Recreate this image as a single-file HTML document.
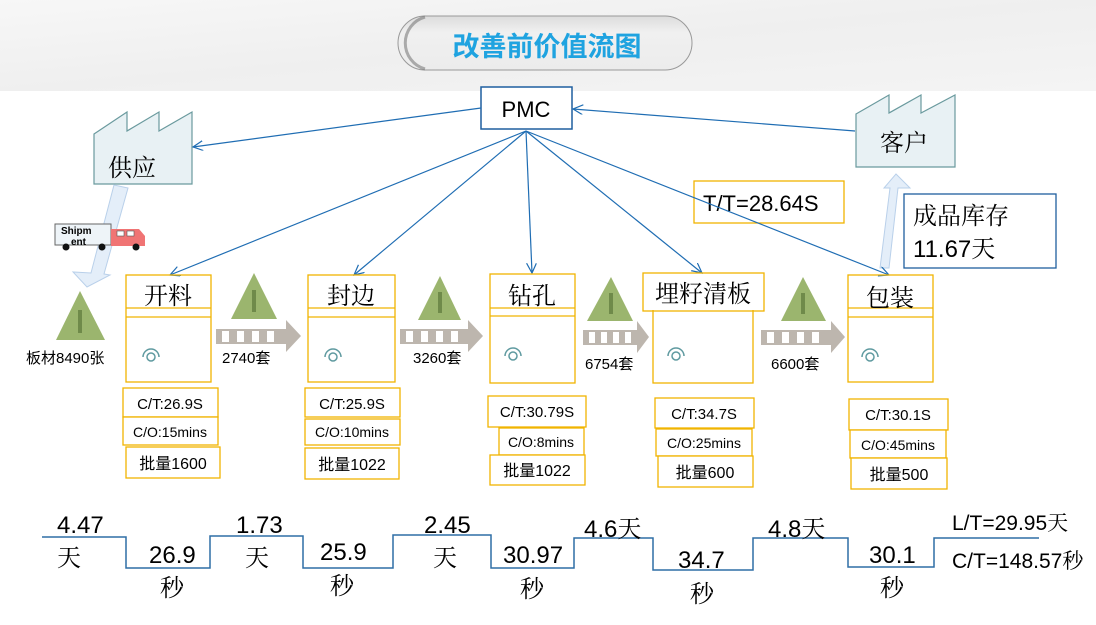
<!DOCTYPE html>
<html><head><meta charset="utf-8"><style>
html,body{margin:0;padding:0;background:#fff;}
svg{display:block;}
text{font-family:"Liberation Sans","Noto Sans CJK SC",sans-serif;fill:#000;}
.cj{font-family:"Noto Serif CJK SC","Liberation Serif",serif;}
</style></head><body>
<svg width="1096" height="625" viewBox="0 0 1096 625" xmlns="http://www.w3.org/2000/svg">
<defs>
<linearGradient id="hd" x1="0" y1="0" x2="1" y2="1"><stop offset="0" stop-color="#f7f7f7"/><stop offset="0.5" stop-color="#efefef"/><stop offset="1" stop-color="#f4f4f4"/></linearGradient>
<linearGradient id="pill" x1="0" y1="0" x2="0" y2="1"><stop offset="0" stop-color="#dcdcdc"/><stop offset="0.3" stop-color="#f0f0f0"/><stop offset="1" stop-color="#ececec"/></linearGradient>
<marker id="ah" markerWidth="12" markerHeight="12" refX="10" refY="5" orient="auto" markerUnits="userSpaceOnUse"><path d="M0,0 L10,5 L0,10" fill="none" stroke="#1f6db3" stroke-width="1.2"/></marker>
</defs>
<rect x="0" y="0" width="1096" height="91" fill="url(#hd)"/>
<rect x="398" y="16" width="294" height="54" rx="27" fill="url(#pill)" stroke="#999" stroke-width="1"/>
<path d="M425,17 A27,27 0 0 0 425,69" fill="none" stroke="#666" stroke-width="3" opacity="0.5"/>
<text x="547" y="56" text-anchor="middle" font-size="27" font-weight="bold" style="fill:#1fa3e0">改善前价值流图</text>

<rect x="481" y="87" width="91" height="42" fill="#fff" stroke="#1f5f9f" stroke-width="1.5"/>
<text x="526" y="117" text-anchor="middle" font-size="22">PMC</text>

<path d="M94,134 L127,112 L127,131 L159,112 L159,131 L192,112 L192,184 L94,184 Z" fill="#e8f1f4" stroke="#6a9a9e" stroke-width="1.2"/>
<text x="108" y="176" font-size="24" class="cj">供应</text>
<path d="M856,114 L889,95 L889,113 L921,95 L921,113 L955,95 L955,167 L856,167 Z" fill="#e8f1f4" stroke="#6a9a9e" stroke-width="1.2"/>
<text x="880" y="151" font-size="24" class="cj">客户</text>

<g stroke="#1f6db3" stroke-width="1.2" fill="none" marker-end="url(#ah)">
<line x1="481" y1="108" x2="193" y2="147"/>
<line x1="855" y1="131" x2="573" y2="109"/>
<line x1="526" y1="131" x2="170" y2="275"/>
<line x1="526" y1="131" x2="354" y2="275"/>
<line x1="526" y1="131" x2="532" y2="273"/>
<line x1="526" y1="131" x2="702" y2="273"/>
</g>

<polygon points="114,185 128,188 104,274 110,275 87,287 73,272 91,273" fill="#e4eef9" stroke="#b9d0ea" stroke-width="1"/>
<polygon points="880,268 889,268 898,188 910,188 896,174 884,188 890,188" fill="#e4eef9" stroke="#b9d0ea" stroke-width="1"/>

<rect x="55" y="224" width="56" height="21" fill="#eef4f8" stroke="#666" stroke-width="1"/>
<text x="61" y="234" font-size="10" font-weight="bold">Shipm</text>
<text x="71" y="245" font-size="10" font-weight="bold">ent</text>
<path d="M111,229 L139,229 L145,236 L145,246 L111,246 Z" fill="#f07474"/>
<rect x="117" y="231" width="7" height="5" fill="#fff" stroke="#555" stroke-width="0.6"/>
<rect x="127" y="231" width="7" height="5" fill="#fff" stroke="#555" stroke-width="0.6"/>
<g fill="#111"><circle cx="66" cy="247" r="3.5"/><circle cx="102" cy="247" r="3.5"/><circle cx="136" cy="247" r="3.5"/></g>

<rect x="694" y="181" width="150" height="42" fill="#fff" stroke="#f0b400" stroke-width="1.3"/>
<text x="703" y="211" font-size="22">T/T=28.64S</text>
<line x1="526" y1="131" x2="889" y2="275" stroke="#1f6db3" stroke-width="1.2" marker-end="url(#ah)"/>
<rect x="904" y="194" width="152" height="74" fill="#fff" stroke="#1f5f9f" stroke-width="1.3"/>
<text x="913" y="224" font-size="24" class="cj">成品库存</text>
<text x="913" y="257" font-size="24">11.67<tspan class="cj">天</tspan></text>

<g fill="#9bb56e">
<polygon points="80,291 56,340 105,340"/>
<polygon points="254,273 231,319 277,319"/>
<polygon points="440,276 418,320 461,320"/>
<polygon points="611,277 587,321 633,321"/>
<polygon points="803,277 781,321 826,321"/>
</g>
<g stroke="#6f8a4a" stroke-width="4">
<line x1="80" y1="310" x2="80" y2="333"/><line x1="254" y1="290" x2="254" y2="312"/>
<line x1="440" y1="292" x2="440" y2="313"/><line x1="611" y1="293" x2="611" y2="314"/>
<line x1="803" y1="293" x2="803" y2="314"/>
</g>

<g>
<g transform="translate(216,320)"><polygon points="0,9 70,9 70,0 85,16 70,32 70,24 0,24" fill="#bdb6ae"/><g fill="#fff"><rect x="6" y="11" width="7" height="11"/><rect x="21" y="11" width="7" height="11"/><rect x="36" y="11" width="7" height="11"/><rect x="51" y="11" width="7" height="11"/></g></g>
<g transform="translate(400,320)"><polygon points="0,9 68,9 68,0 83,16 68,32 68,24 0,24" fill="#bdb6ae"/><g fill="#fff"><rect x="6" y="11" width="7" height="11"/><rect x="21" y="11" width="7" height="11"/><rect x="36" y="11" width="7" height="11"/><rect x="51" y="11" width="7" height="11"/></g></g>
<g transform="translate(583,321)"><polygon points="0,9 54,9 54,0 66,16 54,32 54,24 0,24" fill="#bdb6ae"/><g fill="#fff"><rect x="6" y="11" width="6" height="11"/><rect x="18" y="11" width="6" height="11"/><rect x="30" y="11" width="6" height="11"/><rect x="42" y="11" width="6" height="11"/></g></g>
<g transform="translate(761,321)"><polygon points="0,9 70,9 70,0 84,16 70,32 70,24 0,24" fill="#bdb6ae"/><g fill="#fff"><rect x="6" y="11" width="7" height="11"/><rect x="21" y="11" width="7" height="11"/><rect x="36" y="11" width="7" height="11"/><rect x="51" y="11" width="7" height="11"/></g></g>
</g>
<g font-size="15">
<text x="26" y="363">板材8490张</text>
<text x="222" y="363">2740套</text>
<text x="413" y="363">3260套</text>
<text x="585" y="369">6754套</text>
<text x="771" y="369">6600套</text>
</g>

<g fill="none" stroke="#f0b400" stroke-width="1.3">
<rect x="126" y="275" width="85" height="107"/><line x1="126" y1="308" x2="211" y2="308"/><line x1="126" y1="317" x2="211" y2="317"/>
<rect x="308" y="275" width="87" height="107"/><line x1="308" y1="308" x2="395" y2="308"/><line x1="308" y1="317" x2="395" y2="317"/>
<rect x="490" y="274" width="85" height="109"/><line x1="490" y1="308" x2="575" y2="308"/><line x1="490" y1="316" x2="575" y2="316"/>
<rect x="643" y="273" width="121" height="38"/>
<rect x="653" y="308" width="100" height="75"/>
<rect x="848" y="275" width="85" height="107"/><line x1="848" y1="308" x2="933" y2="308"/><line x1="848" y1="317" x2="933" y2="317"/>
</g>
<rect x="644" y="274" width="119" height="36" fill="#fff"/>
<g font-size="24" text-anchor="middle">
<text x="168" y="304" class="cj">开料</text>
<text x="351" y="304" class="cj">封边</text>
<text x="532" y="304" class="cj">钻孔</text>
<text x="703" y="302" class="cj">埋籽清板</text>
<text x="890" y="306" class="cj">包装</text>
</g>
<g fill="none" stroke="#5f9aa0" stroke-width="1.5">
<path d="M143,357 A8,8 0 0 1 159,357"/><circle cx="151" cy="357" r="4"/>
<path d="M325,357 A8,8 0 0 1 341,357"/><circle cx="333" cy="357" r="4"/>
<path d="M505,356 A8,8 0 0 1 521,356"/><circle cx="513" cy="356" r="4"/>
<path d="M668,356 A8,8 0 0 1 684,356"/><circle cx="676" cy="356" r="4"/>
<path d="M862,357 A8,8 0 0 1 878,357"/><circle cx="870" cy="357" r="4"/>
</g>

<g fill="#fff" stroke="#f0b400" stroke-width="1.3">
<rect x="123" y="388" width="95" height="29"/><rect x="123" y="417" width="95" height="28"/><rect x="126" y="447" width="94" height="31"/>
<rect x="305" y="388" width="95" height="29"/><rect x="305" y="419" width="95" height="26"/><rect x="305" y="448" width="94" height="31"/>
<rect x="488" y="396" width="98" height="31"/><rect x="499" y="428" width="85" height="27"/><rect x="490" y="455" width="95" height="30"/>
<rect x="655" y="398" width="99" height="30"/><rect x="656" y="429" width="96" height="27"/><rect x="658" y="456" width="95" height="31"/>
<rect x="849" y="399" width="99" height="31"/><rect x="850" y="430" width="96" height="28"/><rect x="851" y="458" width="96" height="31"/>
</g>
<g font-size="15" text-anchor="middle">
<text x="170" y="409">C/T:26.9S</text><text x="170" y="437" font-size="14">C/O:15mins</text><text x="173" y="469" font-size="16">批量1600</text>
<text x="352" y="409">C/T:25.9S</text><text x="352" y="437" font-size="14">C/O:10mins</text><text x="352" y="470" font-size="16">批量1022</text>
<text x="537" y="417">C/T:30.79S</text><text x="541" y="447" font-size="14">C/O:8mins</text><text x="537" y="476" font-size="16">批量1022</text>
<text x="704" y="419">C/T:34.7S</text><text x="704" y="448" font-size="14">C/O:25mins</text><text x="705" y="478" font-size="16">批量600</text>
<text x="898" y="420">C/T:30.1S</text><text x="898" y="450" font-size="14">C/O:45mins</text><text x="899" y="480" font-size="16">批量500</text>
</g>

<polyline points="42,537 126,537 126,568 210,568 210,536 212,536 303,536 303,568 393,568 393,535 491,535 491,568 574,568 574,538 653,538 653,570 753,570 753,538 848,538 848,567 934,567 934,538 1039,538" fill="none" stroke="#2e6ea6" stroke-width="1.5"/>
<g font-size="24">
<text x="57" y="533">4.47</text><text x="57" y="566" class="cj">天</text>
<text x="149" y="563">26.9</text><text x="160" y="596" class="cj">秒</text>
<text x="236" y="533">1.73</text><text x="245" y="566" class="cj">天</text>
<text x="320" y="560">25.9</text><text x="330" y="594" class="cj">秒</text>
<text x="424" y="533">2.45</text><text x="433" y="566" class="cj">天</text>
<text x="503" y="563">30.97</text><text x="520" y="597" class="cj">秒</text>
<text x="584" y="537">4.6<tspan class="cj">天</tspan></text>
<text x="678" y="568">34.7</text><text x="690" y="602" class="cj">秒</text>
<text x="768" y="537">4.8<tspan class="cj">天</tspan></text>
<text x="869" y="563">30.1</text><text x="880" y="596" class="cj">秒</text>
</g>
<g font-size="21">
<text x="952" y="530">L/T=29.95<tspan class="cj">天</tspan></text>
<text x="952" y="568">C/T=148.57<tspan class="cj">秒</tspan></text>
</g>
</svg>
</body></html>
